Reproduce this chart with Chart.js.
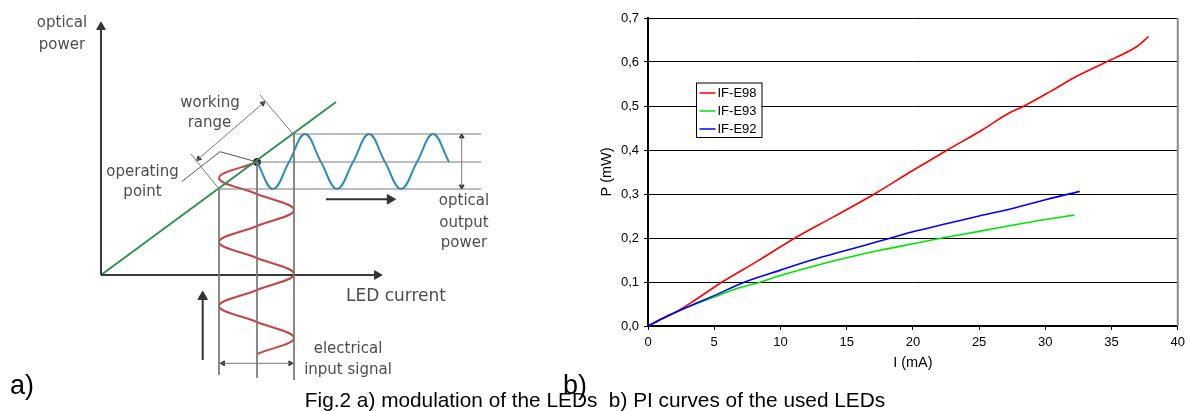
<!DOCTYPE html>
<html><head><meta charset="utf-8">
<script src="https://cdn.jsdelivr.net/npm/chart.js@4.4.0/dist/chart.umd.min.js"></script>
<style>
html,body{margin:0;padding:0;background:#fff;}
body{width:1190px;height:411px;position:relative;overflow:hidden;font-family:"Liberation Sans",Arial,sans-serif;}
#dwrap{position:absolute;left:0;top:0;width:560px;height:385px;}
#pwrap{position:absolute;left:560px;top:0;width:630px;height:380px;}
.lab{position:absolute;font-size:27px;line-height:30px;color:#000;}
#cap{position:absolute;left:0;width:1190px;top:388px;text-align:center;font-size:20.8px;line-height:23px;white-space:pre;color:#000;}
</style></head><body>
<div id="dwrap"><canvas id="diag"></canvas></div>
<div id="pwrap"><canvas id="pi"></canvas></div>
<div class="lab" style="left:10px;top:370px">a)</div>
<div class="lab" style="left:563px;top:370px">b)</div>
<div id="cap">Fig.2 a) modulation of the LEDs  b) PI curves of the used LEDs</div>
<script>
// ---------- b) PI curves data ----------
const seriesNames  = ['IF-E98', 'IF-E93', 'IF-E92'];
const seriesColors = ['#ff0000', '#00e600', '#0000ff'];
const currentE98 = [0, 1, 2, 3.5, 5.6, 8.3, 11.1, 14, 17.1, 19.8, 22.6, 25.2, 27.2, 28.4, 30.5, 32.4, 34.6, 37, 37.8];
const powerE98   = [0, 0.015, 0.03, 0.058, 0.1, 0.148, 0.2, 0.248, 0.3, 0.35, 0.4, 0.445, 0.483, 0.5, 0.535, 0.568, 0.6, 0.637, 0.658];
const currentE93 = [0, 1, 2, 3.5, 5, 6.5, 8.5, 10, 12.5, 15, 17.5, 20, 22.2, 25, 27.5, 30, 32.2];
const powerE93   = [0, 0.016, 0.03, 0.049, 0.066, 0.083, 0.1, 0.115, 0.136, 0.155, 0.172, 0.187, 0.2, 0.215, 0.229, 0.242, 0.252];
const currentE92 = [0, 1, 2, 3.5, 5, 7.3, 10, 12.5, 15, 17.5, 20, 22.6, 25, 27.5, 30, 32.6];
const powerE92   = [0, 0.016, 0.03, 0.05, 0.069, 0.1, 0.127, 0.151, 0.172, 0.193, 0.214, 0.233, 0.25, 0.267, 0.287, 0.306];
const xTickLabels = ['0','5','10','15','20','25','30','35','40'];
const yTickLabels = ['0,0','0,1','0,2','0,3','0,4','0,5','0,6','0,7'];

// ---------- a) schematic diagram data (diagram units: current / power) ----------
const diagYAxis = [[0,0],[0,248]];
const diagXAxis = [[0,0],[276,0]];
const diagLI    = [[0,0],[235,173]];
const outWaveU  = [156,172,188,204,220,236,252,268,284,300,316,332,348];
const outWaveV  = [113,86,113,141,113,86,113,141,113,86,113,141,113];
const inWaveU   = [156,118,156,193,156,118,156,193,156,118,156,193,156];
const inWaveV   = [113,97,81,65,49,33,17,1,-15,-31,-47,-63,-79];
const guideLines = [
  [[192,141],[380,141]], [[156,113],[380,113]], [[118,86],[380,86]],
  [[118,86],[118,-100]], [[156,113],[156,-103]], [[193,141],[193,-105]],
  [[118,86],[90,121]], [[192,141],[159,180]], [[95.5,114.5],[164,173.5]],
  [[360.7,88],[360.7,139]], [[121,-88.3],[190.3,-88.3]]
];
const leaderLine = [[80.7,93.3],[119,123.3],[156,113]];
const arrowShafts = [ [[225,75.7],[289,75.7]], [[101.7,-85],[101.7,-21.7]] ];
const arrowHeads = [ // u, v, rotation, size
  [0,248,0,5], [276,0,90,5], [289,75.7,90,5.5], [101.7,-21.7,0,5.5],
  [360.7,138.5,0,2.8], [360.7,88.5,180,2.8], [122,-88.3,270,2.8], [189.3,-88.3,90,2.8],
  [161.8,171.6,49,2.8], [97.7,116.4,229,2.8]
];
const operatingPoint = [[156,113]];
const diagLabels = [
  ['optical',-39,251.7,15], ['power',-39,230,15],
  ['working',109,171.7,15], ['range',108.5,151.7,15],
  ['operating',41.5,102.7,15], ['point',41.5,82.7,15],
  ['optical',363,74.3,15], ['output',363,51.7,15], ['power',363,31.7,15],
  ['LED current',295,-21.7,17],
  ['electrical',247,-74.3,15], ['input signal',247,-95,15]
];

Chart.defaults.font.family = '"Liberation Sans", Arial, sans-serif';
Chart.defaults.animation = false;

// ---------- diagram chart ----------
const toPts = arr => arr.map(p => ({x: p[0], y: p[1]}));
const lineDs = (pts, color, width, tension) => ({
  data: toPts(pts), showLine: true, borderColor: color, borderWidth: width,
  pointRadius: 0, tension: tension || 0, fill: false
});
const diagDatasets = [];
guideLines.forEach(g => diagDatasets.push(lineDs(g, '#7a7a7a', 1)));
diagDatasets.push(lineDs(leaderLine, '#555555', 1));
arrowShafts.forEach(s => diagDatasets.push(lineDs(s, '#333333', 2)));
diagDatasets.push(lineDs(diagYAxis, '#3a3a3a', 2));
diagDatasets.push(lineDs(diagXAxis, '#3a3a3a', 2));
diagDatasets.push(lineDs(diagLI, '#2e9150', 2));
diagDatasets.push(lineDs(outWaveU.map((u,i)=>[u,outWaveV[i]]), '#2f8cbc', 2, 0.4));
diagDatasets.push(lineDs(inWaveU.map((u,i)=>[u,inWaveV[i]]), '#c8464a', 2, 0.4));
diagDatasets.push({
  data: toPts(arrowHeads), showLine: false, pointStyle: 'triangle',
  pointRadius: arrowHeads.map(a => a[3]), pointRotation: arrowHeads.map(a => a[2]),
  pointBackgroundColor: '#333333', pointBorderColor: '#333333', pointBorderWidth: 1
});
diagDatasets.push({
  data: toPts(operatingPoint), showLine: false, pointStyle: 'circle',
  pointRadius: 3.5, pointBackgroundColor: '#111', pointBorderColor: '#111'
});

const diagText = {
  id: 'diagText',
  afterDatasetsDraw(chart) {
    const ctx = chart.ctx, sx = chart.scales.x, sy = chart.scales.y;
    ctx.save();
    ctx.fillStyle = '#4d4d4d';
    ctx.textAlign = 'center';
    ctx.textBaseline = 'middle';
    diagLabels.forEach(l => {
      ctx.font = l[3] + 'px "DejaVu Sans", sans-serif';
      ctx.fillText(l[0], sx.getPixelForValue(l[1]), sy.getPixelForValue(l[2]));
    });
    ctx.restore();
  }
};

new Chart(document.getElementById('diag'), {
  type: 'scatter',
  data: { datasets: diagDatasets },
  options: {
    responsive: true, maintainAspectRatio: false,
    layout: { padding: 0, autoPadding: false },
    plugins: { legend: { display: false }, tooltip: { enabled: false } },
    scales: {
      x: { type: 'linear', min: -101, max: 459, display: false },
      y: { type: 'linear', min: -110, max: 275, display: false }
    },
    events: []
  },
  plugins: [diagText]
});

// ---------- PI chart ----------
const piSeries = [[currentE98, powerE98], [currentE93, powerE93], [currentE92, powerE92]];
const drawOrder = [1, 2, 0];

const piLegend = {
  id: 'piLegend',
  afterDatasetsDraw(chart) {
    const ctx = chart.ctx, a = chart.chartArea;
    const x0 = a.left + 48, y0 = a.top + 64.5, w = 65.5, h = 54.5;
    ctx.save();
    ctx.fillStyle = '#fff';
    ctx.fillRect(x0, y0, w, h);
    ctx.strokeStyle = '#000'; ctx.lineWidth = 1;
    ctx.strokeRect(x0 + 0.5, y0 + 0.5, w, h);
    ctx.font = '13px "Liberation Sans", Arial, sans-serif';
    ctx.textBaseline = 'middle'; ctx.textAlign = 'left';
    chart.data.datasets.forEach((ds, i) => {
      const cy = y0 + 10.5 + i * 18;
      ctx.strokeStyle = ds.borderColor; ctx.lineWidth = 1.5;
      ctx.beginPath(); ctx.moveTo(x0 + 3.5, cy); ctx.lineTo(x0 + 19.5, cy); ctx.stroke();
      ctx.fillStyle = '#000';
      ctx.fillText(ds.label, x0 + 21.5, cy + 0.5);
    });
    ctx.restore();
  }
};
const piFrame = {
  id: 'piFrame',
  afterDraw(chart) {
    const ctx = chart.ctx, a = chart.chartArea;
    ctx.save();
    ctx.strokeStyle = '#8a8a8a'; ctx.lineWidth = 2;
    ctx.beginPath(); ctx.moveTo(a.right, a.top); ctx.lineTo(a.right, a.bottom); ctx.stroke();
    ctx.restore();
  }
};

new Chart(document.getElementById('pi'), {
  type: 'scatter',
  data: {
    datasets: seriesNames.map((n, i) => ({
      label: n,
      data: piSeries[i][0].map((x, j) => ({ x: x, y: piSeries[i][1][j] })),
      showLine: true, borderColor: seriesColors[i], backgroundColor: seriesColors[i],
      borderWidth: 1.6, pointRadius: 0, tension: 0.4, cubicInterpolationMode: 'monotone',
      order: drawOrder[i]
    }))
  },
  options: {
    responsive: true, maintainAspectRatio: false,
    layout: { padding: { top: 18, right: 9, left: 0, bottom: 0 } },
    plugins: { legend: { display: false }, tooltip: { enabled: false } },
    events: [],
    scales: {
      x: {
        type: 'linear', min: 0, max: 40,
        ticks: { stepSize: 5, color: '#000', font: { size: 13 }, padding: 5,
                 callback: v => xTickLabels[Math.round(v / 5)] },
        grid: { drawOnChartArea: false, drawTicks: true, tickLength: 4, color: '#000' },
        border: { color: '#000', width: 2 },
        title: { display: true, text: 'I (mA)', color: '#000', font: { size: 14.5 }, padding: { top: 0, bottom: 8 } },
        afterFit: s => { s.height = 54; }
      },
      y: {
        type: 'linear', min: 0, max: 0.7,
        ticks: { stepSize: 0.1, color: '#000', font: { size: 13 }, padding: 5,
                 callback: v => yTickLabels[Math.round(v * 10)] },
        grid: { color: '#000', lineWidth: 1, drawTicks: true, tickLength: 4 },
        border: { color: '#000', width: 2 },
        title: { display: true, text: 'P (mW)', color: '#000', font: { size: 14.5 }, padding: { top: 38, bottom: 0 } },
        afterFit: s => { s.width = 88; }
      }
    }
  },
  plugins: [piLegend, piFrame]
});
</script>
</body></html>
